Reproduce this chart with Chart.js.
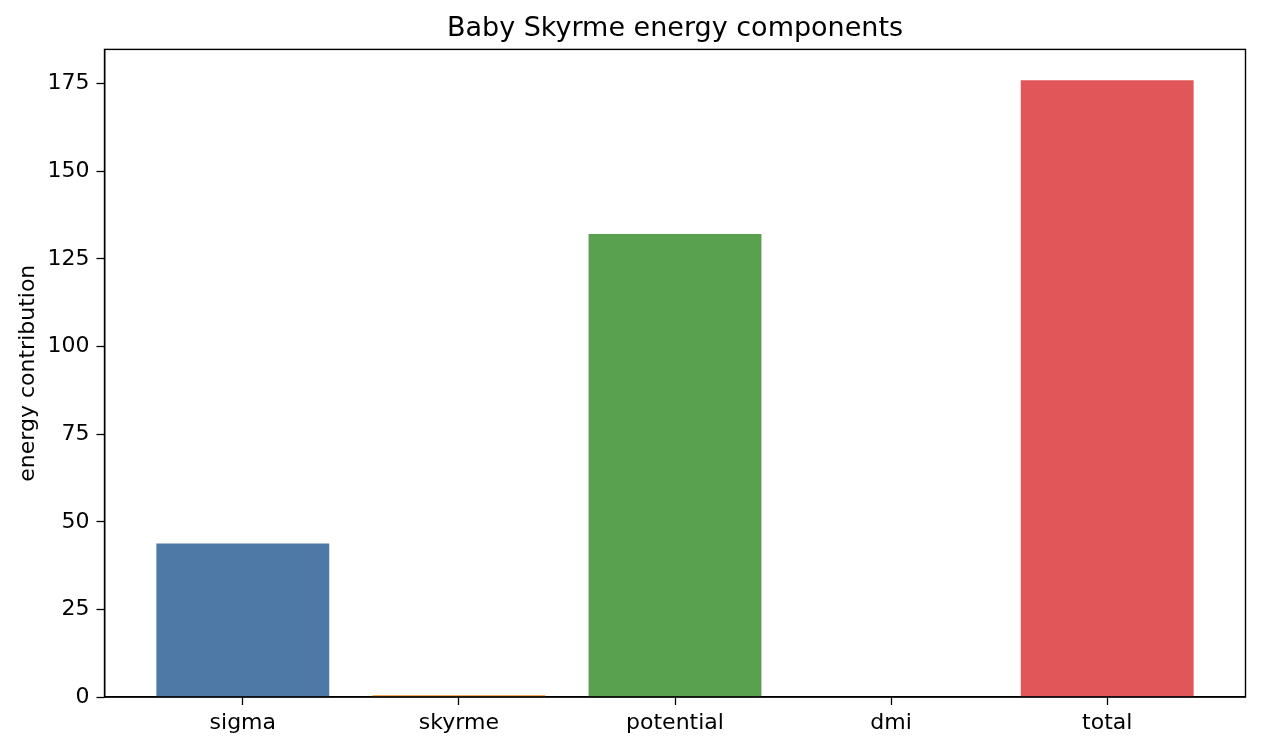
<!DOCTYPE html>
<html>
<head>
<meta charset="utf-8">
<script src="https://cdn.jsdelivr.net/npm/chart.js@4"></script>
<style>
  html, body { margin: 0; padding: 0; background: #fff; }
  #wrap { width: 1262px; height: 751px; }
</style>
</head>
<body>
<div id="wrap"><canvas id="myChart" width="1262" height="751"></canvas></div>
<script>
// values
const categories = ['sigma', 'skyrme', 'potential', 'dmi', 'total'];
const energies = [43.8, 0.5, 132.1, 0, 176.0];
const barColors = ['#4e79a7', '#f28e2b', '#59a14f', '#76b7b2', '#e15759'];
const yTicks = [0, 25, 50, 75, 100, 125, 150, 175];

const FONT = 'DejaVu Sans';

// matplotlib-like box around the axes
const frame = {
  id: 'frame',
  afterDraw(chart) {
    const { ctx, chartArea: a } = chart;
    ctx.save();
    ctx.strokeStyle = '#000';
    ctx.lineWidth = 1.4;
    ctx.strokeRect(a.left, a.top, a.right - a.left, a.bottom - a.top);
    ctx.restore();
  }
};

const ctx = document.getElementById('myChart').getContext('2d');
new Chart(ctx, {
  type: 'bar',
  data: {
    datasets: [{
      data: categories.map((c, i) => ({ x: i, y: energies[i] })),
      backgroundColor: barColors,
      borderWidth: 0,
      categoryPercentage: 0.8,
      barPercentage: 1.0,
    }],
  },
  options: {
    responsive: false,
    animation: false,
    layout: { padding: { left: 0, right: 16.5, top: 0, bottom: 0 } },
    plugins: {
      legend: { display: false },
      tooltip: { enabled: false },
      title: {
        display: true,
        text: 'Baby Skyrme energy components',
        fullSize: false,
        color: '#000',
        font: { family: FONT, size: 27, weight: 'normal' },
        padding: { top: 13, bottom: 4 },
      },
    },
    scales: {
      x: {
        type: 'linear',
        min: -0.64,
        max: 4.64,
        offset: false,
        afterBuildTicks: s => { s.ticks = categories.map((c, i) => ({ value: i })); },
        afterFit: s => { s.height = 54; },
        ticks: {
          callback: v => categories[v],
          color: '#000',
          font: { family: FONT, size: 22 },
          padding: 5,
          maxRotation: 0,
        },
        grid: { offset: false, drawOnChartArea: false, drawTicks: true, tickLength: 8, color: '#000', tickWidth: 1.3 },
        border: { display: true, color: '#000', width: 1.4 },
      },
      y: {
        min: 0,
        max: 184.8,
        afterBuildTicks: s => { s.ticks = yTicks.map(v => ({ value: v })); },
        afterFit: s => { s.width = 104.5; },
        ticks: {
          color: '#000',
          font: { family: FONT, size: 22 },
          padding: 7,
        },
        grid: { drawOnChartArea: false, drawTicks: true, tickLength: 8, color: '#000', tickWidth: 1.3 },
        border: { display: true, color: '#000', width: 1.4 },
        title: {
          display: true,
          text: 'energy contribution',
          color: '#000',
          font: { family: FONT, size: 22 },
          padding: { top: 15, bottom: 0 },
        },
      },
    },
  },
  plugins: [frame],
});
</script>
</body>
</html>
